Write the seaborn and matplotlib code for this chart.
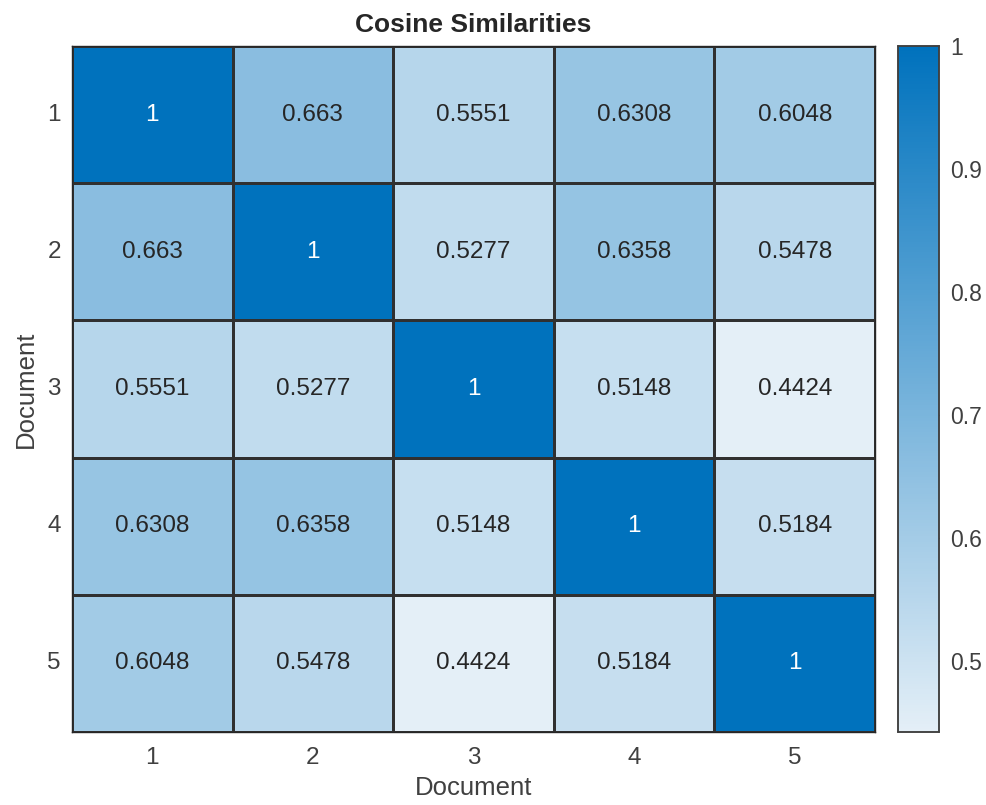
import numpy as np
import pandas as pd
import matplotlib
matplotlib.use("Agg")
import matplotlib.pyplot as plt
import seaborn as sns
from matplotlib.colors import LinearSegmentedColormap

docs = ["1", "2", "3", "4", "5"]
row1 = [1, 0.663, 0.5551, 0.6308, 0.6048]
row2 = [0.663, 1, 0.5277, 0.6358, 0.5478]
row3 = [0.5551, 0.5277, 1, 0.5148, 0.4424]
row4 = [0.6308, 0.6358, 0.5148, 1, 0.5184]
row5 = [0.6048, 0.5478, 0.4424, 0.5184, 1]
cbar_ticks = [0.5, 0.6, 0.7, 0.8, 0.9, 1.0]
cbar_labels = ["0.5", "0.6", "0.7", "0.8", "0.9", "1"]

df = pd.DataFrame([row1, row2, row3, row4, row5], index=docs, columns=docs)
labels = df.map(lambda v: f"{v:.4g}")

sns.set_theme(style="white")
plt.rcParams['font.family'] = ['Liberation Sans', 'DejaVu Sans']

cmap = LinearSegmentedColormap.from_list(
    "sky", [(0.894, 0.937, 0.969), (0.0, 0.447, 0.741)])

W, H = 987, 805
fig = plt.figure(figsize=(W / 100, H / 100), dpi=100)
ax = fig.add_axes([72 / W, 1 - 732 / H, 803 / W, 686 / H])
cax = fig.add_axes([898 / W, 1 - 732 / H, 41 / W, 686 / H])

sns.heatmap(df, ax=ax, cbar_ax=cax, cmap=cmap, vmin=df.values.min(), vmax=1,
            annot=labels, fmt="", linewidths=0.8, linecolor="#303030",
            annot_kws={"fontsize": 17.5, "color": "#262626"})

for t in ax.texts:
    if t.get_text() == "1":
        t.set_color("white")

for sp in ax.spines.values():
    sp.set_visible(True)
    sp.set_color("#262626")
    sp.set_linewidth(1.0)

ax.set_title("Cosine Similarities", fontsize=19, fontweight="bold", color="#262626", pad=10)
ax.set_xlabel("Document", fontsize=18.5, color="#404040", labelpad=5)
ax.set_ylabel("Document", fontsize=18.5, color="#404040", labelpad=7)
ax.tick_params(axis="both", labelsize=17.5, labelcolor="#404040", length=0)
ax.tick_params(axis="x", pad=11)
ax.tick_params(axis="y", pad=8, rotation=0)

cax.set_yticks(cbar_ticks)
cax.set_yticklabels(cbar_labels)
cax.tick_params(labelsize=16.5, labelcolor="#404040", direction="in", length=5,
                width=1, color="#262626", right=True, pad=8)
for sp in cax.spines.values():
    sp.set_visible(True)
    sp.set_color("#404040")
    sp.set_linewidth(1.1)

fig.savefig("out.png", dpi=100)
